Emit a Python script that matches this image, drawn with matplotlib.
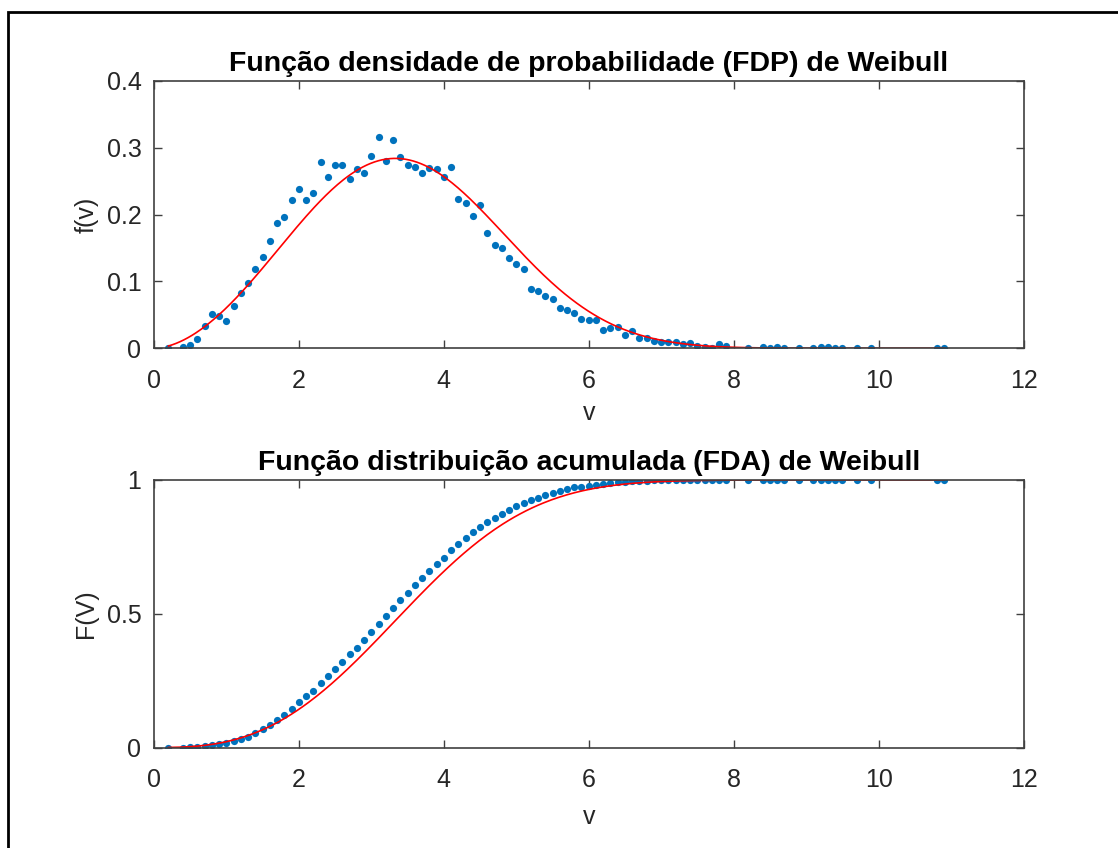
import numpy as np
import matplotlib.pyplot as plt
from matplotlib.patches import Rectangle

plt.rcParams['font.family'] = ['Liberation Sans', 'DejaVu Sans']

# wind speed bins (m/s)
v = [0.2, 0.4, 0.5, 0.6, 0.7, 0.8, 0.9, 1.0, 1.1, 1.2, 1.3, 1.4, 1.5, 1.6, 1.7, 1.8,
     1.9, 2.0, 2.1, 2.2, 2.3, 2.4, 2.5, 2.6, 2.7, 2.8, 2.9, 3.0, 3.1, 3.2, 3.3, 3.4,
     3.5, 3.6, 3.7, 3.8, 3.9, 4.0, 4.1, 4.2, 4.3, 4.4, 4.5, 4.6, 4.7, 4.8, 4.9, 5.0,
     5.1, 5.2, 5.3, 5.4, 5.5, 5.6, 5.7, 5.8, 5.9, 6.0, 6.1, 6.2, 6.3, 6.4, 6.5, 6.6,
     6.7, 6.8, 6.9, 7.0, 7.1, 7.2, 7.3, 7.4, 7.5, 7.6, 7.7, 7.8, 7.9,
     8.2, 8.4, 8.5, 8.6, 8.7, 8.9, 9.1, 9.2, 9.3, 9.4, 9.5, 9.7, 9.9, 10.8, 10.9]

# empirical density
fdp = [0.000, 0.0025, 0.0045, 0.014, 0.034, 0.052, 0.049, 0.041, 0.064, 0.082, 0.097,
       0.119, 0.137, 0.161, 0.187, 0.196, 0.222, 0.239, 0.222, 0.232, 0.279, 0.257,
       0.274, 0.274, 0.254, 0.269, 0.262, 0.288, 0.316, 0.280, 0.311, 0.286, 0.274,
       0.272, 0.263, 0.270, 0.268, 0.256, 0.272, 0.2235, 0.2175, 0.198, 0.215, 0.173,
       0.154, 0.150, 0.135, 0.126, 0.119, 0.088, 0.085, 0.078, 0.073, 0.061, 0.058,
       0.053, 0.044, 0.042, 0.042, 0.028, 0.030, 0.032, 0.020, 0.026, 0.016, 0.015,
       0.011, 0.009, 0.009, 0.009, 0.0065, 0.0085, 0.0035, 0.0025, 0.001, 0.0065, 0.003,
       0.0005, 0.0025, 0.0007, 0.0025, 0.0005, 0.0005, 0.0005, 0.0025, 0.0025, 0.0007,
       0.0007, 0.0005, 0.0005, 0.0005, 0.0005]

# empirical cumulative
fda = [0.000, 0.000, 0.001, 0.002, 0.004, 0.008, 0.013, 0.018, 0.025, 0.031, 0.041,
       0.054, 0.069, 0.084, 0.103, 0.121, 0.144, 0.171, 0.191, 0.212, 0.242, 0.268,
       0.295, 0.321, 0.348, 0.373, 0.402, 0.430, 0.462, 0.491, 0.522, 0.550, 0.577,
       0.606, 0.632, 0.659, 0.685, 0.710, 0.738, 0.762, 0.784, 0.804, 0.826, 0.842,
       0.859, 0.874, 0.889, 0.903, 0.915, 0.924, 0.933, 0.943, 0.950, 0.959, 0.965,
       0.972, 0.975, 0.979, 0.983, 0.986, 0.989, 0.992, 0.994, 0.996, 0.997, 0.998,
       0.9985, 0.999, 0.999, 0.9993, 0.9995, 0.9996, 0.9997, 0.9998, 0.9998, 0.9999,
       0.9999, 1.0, 1.0, 1.0, 1.0, 1.0, 1.0, 1.0, 1.0, 1.0, 1.0, 1.0, 1.0, 1.0, 1.0, 1.0]

# fitted Weibull parameters
k_shape = 2.8
c_scale = 3.9

vv = np.linspace(min(v), max(v), 400)
pdf_fit = (k_shape / c_scale) * (vv / c_scale) ** (k_shape - 1) * np.exp(-(vv / c_scale) ** k_shape)
cdf_fit = 1 - np.exp(-(vv / c_scale) ** k_shape)

blue = '#0072BD'
axcol = '#404040'
txtcol = '#262626'

fig = plt.figure(figsize=(11.18, 8.48), dpi=100)
ax1 = fig.add_axes([0.1377, 0.5893, 0.7778, 0.3152])
ax2 = fig.add_axes([0.1377, 0.1185, 0.7778, 0.3155])

def style(ax):
    ax.set_xlim(0, 12)
    ax.set_xticks(range(0, 13, 2))
    ax.tick_params(direction='in', length=6, width=1, colors=axcol, labelcolor=txtcol,
                   labelsize=18, top=True, right=True)
    ax.tick_params(axis='x', pad=15)
    ax.tick_params(axis='y', pad=9)
    for s in ax.spines.values():
        s.set_color(axcol)
        s.set_linewidth(1.2)

ax1.plot(v, fdp, 'o', color=blue, ms=5.2, mec='none')
ax1.plot(vv, pdf_fit, '-', color='red', lw=1.2)
ax1.set_ylim(0, 0.4)
ax1.set_yticks([0, 0.1, 0.2, 0.3, 0.4])
ax1.set_yticklabels(['0', '0.1', '0.2', '0.3', '0.4'])
style(ax1)
ax1.set_title('Função densidade de probabilidade (FDP) de Weibull', fontsize=20.5,
              fontweight='bold', color='black', pad=7)
ax1.set_xlabel('v', fontsize=18, color=txtcol, labelpad=6)
ax1.set_ylabel('f(v)', fontsize=18, color=txtcol, labelpad=6)

ax2.plot(v, fda, 'o', color=blue, ms=5.2, mec='none')
ax2.plot(vv, cdf_fit, '-', color='red', lw=1.2)
ax2.set_ylim(0, 1)
ax2.set_yticks([0, 0.5, 1])
ax2.set_yticklabels(['0', '0.5', '1'])
style(ax2)
ax2.set_title('Função distribuição acumulada (FDA) de Weibull', fontsize=20.5,
              fontweight='bold', color='black', pad=7)
ax2.set_xlabel('v', fontsize=18, color=txtcol, labelpad=9)
ax2.set_ylabel('F(V)', fontsize=18, color=txtcol, labelpad=6)

# outer frame from the screenshot
fig.patches.append(Rectangle((8 / 1118, -0.1), 1.2, 1 - 12 / 848 + 0.1,
                             transform=fig.transFigure, fill=False,
                             edgecolor='black', lw=2))

fig.savefig('out.png', dpi=100)
